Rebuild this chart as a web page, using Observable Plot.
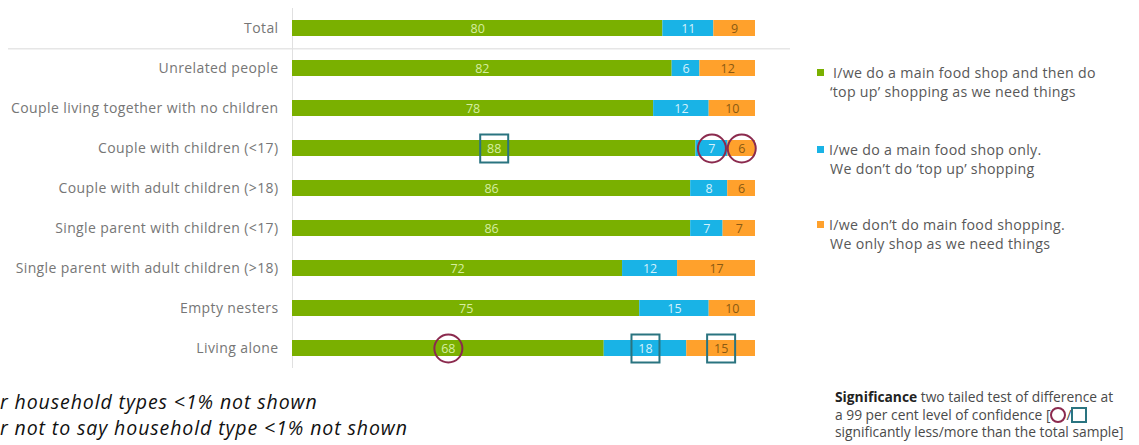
<!DOCTYPE html>
<html><head><meta charset="utf-8">
<script src="https://cdn.jsdelivr.net/npm/d3@7"></script>
<script src="https://cdn.jsdelivr.net/npm/@observablehq/plot@0.6"></script>
<style>
body{margin:0;background:#fff;}
#wrap{position:relative;width:1139px;height:445px;overflow:hidden;font-family:"Open Sans",sans-serif;}
#chart{position:absolute;left:0;top:0;}
#chart svg g[aria-label="y-axis tick label"] text{letter-spacing:0.4px;}
.legend{position:absolute;left:817px;font-size:14.2px;color:#585858;line-height:19px;white-space:nowrap;letter-spacing:0.3px;}
.legend .sw{display:inline-block;width:7px;height:7px;margin-right:5px;vertical-align:2px;}
.legend .l2{padding-left:13px;}
.note{position:absolute;left:0;font-family:"Open Sans",sans-serif;font-style:italic;font-size:19.5px;line-height:26px;letter-spacing:0.9px;color:#111;white-space:nowrap;}
.sig{position:absolute;left:835px;top:388px;font-size:13.8px;line-height:17.5px;color:#4a4a4a;white-space:nowrap;}
.sig b{color:#222;}
.circ{display:inline-block;width:12px;height:12px;border:2px solid #8b2a4e;border-radius:50%;vertical-align:-3px;}
.sq{display:inline-block;width:12px;height:12px;border:2px solid #2a7480;vertical-align:-3px;}
</style></head><body><div id="wrap"><div id="chart"></div></div>
<script>
const groups = ["Total","Unrelated people","Couple living together with no children","Couple with children (<17)","Couple with adult children (>18)","Single parent with children (<17)","Single parent with adult children (>18)","Empty nesters","Living alone"];
const seriesNames = ["I/we do a main food shop and then do 'top up' shopping as we need things","I/we do a main food shop only. We don't do 'top up' shopping","I/we don't do main food shopping. We only shop as we need things"];
const mainThenTopUp = [80,82,78,88,86,86,72,75,68];
const mainOnly      = [11,6,12,7,8,7,12,15,18];
const noMain        = [9,12,10,6,6,7,17,10,15];
// significance: "less" = circle, "more" = square
const sigMainThenTopUp = [null,null,null,"more",null,null,null,null,"less"];
const sigMainOnly      = [null,null,null,"less",null,null,null,null,"more"];
const sigNoMain        = [null,null,null,"less",null,null,null,null,"more"];
const seriesColors = ["#7ab000","#19b3e6","#ffa12c"];
const labelColors  = ["#d6eea0","#d4f1fc","#8a5a12"];
const noteLines = ["r household types <1% not shown","r not to say household type <1% not shown"];

const values = [mainThenTopUp, mainOnly, noMain];
const sigs = [sigMainThenTopUp, sigMainOnly, sigNoMain];
const data = [];
groups.forEach((g,i)=>values.forEach((arr,j)=>data.push({group:g, series:seriesNames[j], k:j, value:arr[i], sig:sigs[j][i]})));

const stack = (o)=>Plot.stackX({x:"value", y:"group", z:"series", offset:"normalize", order:seriesNames, ...o});

const plot = Plot.plot({
  width:1139, height:445,
  marginLeft:292, marginRight:384, marginTop:5, marginBottom:74,
  style:{fontFamily:"'Open Sans', sans-serif", background:"transparent"},
  x:{axis:null, domain:[0,1]},
  y:{domain:groups, paddingInner:0.6, paddingOuter:0.3, label:null},
  color:{domain:seriesNames, range:seriesColors},
  r:{type:"identity"},
  marks:[
    Plot.ruleY(["Total"], {dy:20.3, insetLeft:-284, insetRight:-35, stroke:"#e6e6e6", strokeWidth:1.5}),
    Plot.ruleX([0], {stroke:"#e0e0e0", insetTop:3, insetBottom:3}),
    Plot.barX(data, stack({fill:"series"})),
    Plot.text(data, stack({text:d=>String(d.value), fill:d=>labelColors[d.k], fontSize:12.5})),
    Plot.dot(data, stack({r:d=>d.sig==="less"?14:0, stroke:"#8b2a4e", strokeWidth:2, fill:"none"})),
    Plot.dot(data, stack({r:d=>d.sig==="more"?15.8:0, symbol:"square", stroke:"#2a7480", strokeWidth:2, fill:"none"})),
    Plot.axisY({tickSize:0, tickPadding:14, fontSize:14, fill:"#767676", label:null})
  ]
});
document.getElementById("chart").append(plot);

const wrap = document.getElementById("wrap");
const legendLines = [
  ["I/we do a main food shop and then do","'top up' shopping as we need things"],
  ["I/we do a main food shop only.","We don't do 'top up' shopping"],
  ["I/we don't do main food shopping.","We only shop as we need things"]
];
const legendTops = [63, 140, 215];
legendLines.forEach((lines,j)=>{
  const d = document.createElement("div");
  d.className = "legend";
  d.style.top = legendTops[j]+"px";
  d.innerHTML = `<div><span class="sw" style="background:${seriesColors[j]};${j===0?"margin-right:9px":""}"></span>${lines[0].replace(/'/g,j===0?"\u2018":"\u2019")}</div><div class="l2">${lines[1].replace(/'top up'/,"\u2018top up\u2019").replace(/don't/,"don\u2019t")}</div>`;
  wrap.append(d);
});
const noteTops = [389, 415];
noteLines.forEach((t,i)=>{
  const n = document.createElement("div");
  n.className = "note";
  n.style.top = noteTops[i]+"px";
  n.textContent = t;
  wrap.append(n);
});
const sig = document.createElement("div");
sig.className = "sig";
sig.innerHTML = '<b>Significance</b> two tailed test of difference at<br>a 99 per cent level of confidence [<span class="circ"></span>/<span class="sq"></span><br>significantly less/more than the total sample]';
wrap.append(sig);
</script></body></html>
